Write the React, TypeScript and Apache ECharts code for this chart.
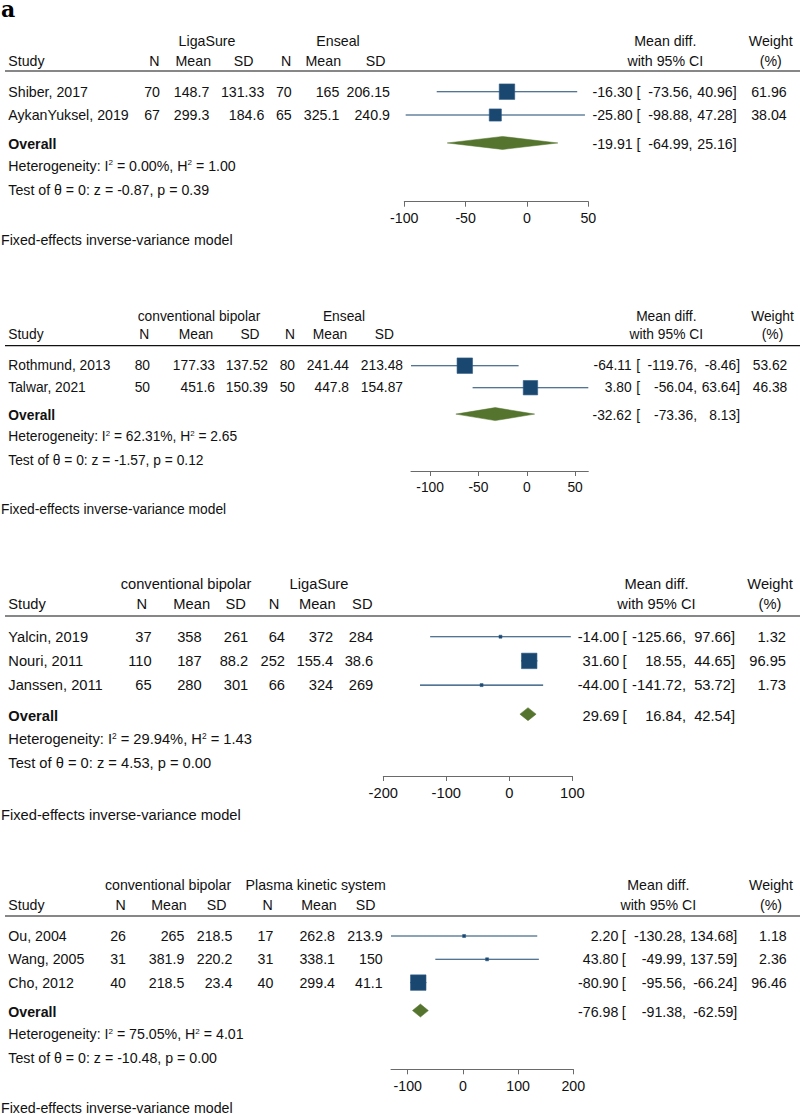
import React, { useEffect, useRef } from "react";
import * as echarts from "echarts";

const FONT = "'Liberation Sans', Arial, Helvetica, sans-serif";
const NAVY = "#1a476f";
const GREEN = "#55752f";
const TXT = "#111111";
const AXIS = "#6a6a6a";

// ---------- Panel 1: LigaSure vs Enseal ----------
const p1Groups = ["LigaSure", "Enseal"];
const p1Studies = ["Shiber, 2017", "AykanYuksel, 2019"];
const p1N1 = [70, 67];
const p1Mean1 = [148.7, 299.3];
const p1SD1 = [131.33, 184.6];
const p1N2 = [70, 65];
const p1Mean2 = [165, 325.1];
const p1SD2 = [206.15, 240.9];
const p1Diff = [-16.3, -25.8];
const p1Lower = [-73.56, -98.88];
const p1Upper = [40.96, 47.28];
const p1Weight = [61.96, 38.04];
const p1Overall = [-19.91, -64.99, 25.16];
const p1Het = ["0.00%", "1.00"];
const p1Test = ["-0.87", "0.39"];
const p1Ticks = [-100, -50, 0, 50];

// ---------- Panel 2: conventional bipolar vs Enseal ----------
const p2Groups = ["conventional bipolar", "Enseal"];
const p2Studies = ["Rothmund, 2013", "Talwar, 2021"];
const p2N1 = [80, 50];
const p2Mean1 = [177.33, 451.6];
const p2SD1 = [137.52, 150.39];
const p2N2 = [80, 50];
const p2Mean2 = [241.44, 447.8];
const p2SD2 = [213.48, 154.87];
const p2Diff = [-64.11, 3.8];
const p2Lower = [-119.76, -56.04];
const p2Upper = [-8.46, 63.64];
const p2Weight = [53.62, 46.38];
const p2Overall = [-32.62, -73.36, 8.13];
const p2Het = ["62.31%", "2.65"];
const p2Test = ["-1.57", "0.12"];
const p2Ticks = [-100, -50, 0, 50];

// ---------- Panel 3: conventional bipolar vs LigaSure ----------
const p3Groups = ["conventional bipolar", "LigaSure"];
const p3Studies = ["Yalcin, 2019", "Nouri, 2011", "Janssen, 2011"];
const p3N1 = [37, 110, 65];
const p3Mean1 = [358, 187, 280];
const p3SD1 = [261, 88.2, 301];
const p3N2 = [64, 252, 66];
const p3Mean2 = [372, 155.4, 324];
const p3SD2 = [284, 38.6, 269];
const p3Diff = [-14.0, 31.6, -44.0];
const p3Lower = [-125.66, 18.55, -141.72];
const p3Upper = [97.66, 44.65, 53.72];
const p3Weight = [1.32, 96.95, 1.73];
const p3Overall = [29.69, 16.84, 42.54];
const p3Het = ["29.94%", "1.43"];
const p3Test = ["4.53", "0.00"];
const p3Ticks = [-200, -100, 0, 100];

// ---------- Panel 4: conventional bipolar vs Plasma kinetic system ----------
const p4Groups = ["conventional bipolar", "Plasma kinetic system"];
const p4Studies = ["Ou, 2004", "Wang, 2005", "Cho, 2012"];
const p4N1 = [26, 31, 40];
const p4Mean1 = [265, 381.9, 218.5];
const p4SD1 = [218.5, 220.2, 23.4];
const p4N2 = [17, 31, 40];
const p4Mean2 = [262.8, 338.1, 299.4];
const p4SD2 = [213.9, 150, 41.1];
const p4Diff = [2.2, 43.8, -80.9];
const p4Lower = [-130.28, -49.99, -95.56];
const p4Upper = [134.68, 137.59, -66.24];
const p4Weight = [1.18, 2.36, 96.46];
const p4Overall = [-76.98, -91.38, -62.59];
const p4Het = ["75.05%", "4.01"];
const p4Test = ["-10.48", "0.00"];
const p4Ticks = [-100, 0, 100, 200];

const colHeaders = ["N", "Mean", "SD", "N", "Mean", "SD"];

// ---------- layout (pixels) ----------
const layouts = [
  {
    fs: 14.2, groupY: 40.7, headY: 60.7, lineY: 71, row0: 91.7, step: 23.3, hetY: 165.7, testY: 190, axisY: 201.7, fixedY: 240,
    groupX: [207, 338], colHeadX: [154.3, 193.3, 243.7, 286, 323.3, 375.7], colValR: [160, 209.3, 264.3, 291.7, 339.3, 390],
    axisPx: [404.3, 588.3], estR: 632.7, brL: 636.5, loR: 692.5, hiR: 736.7, wR: 786.7, mdX: 665.3, wX: 770.7,
  },
  {
    fs: 13.8, groupY: 316, headY: 334.3, lineY: 345.7, row0: 365.7, step: 22, hetY: 436.7, testY: 460, axisY: 471, fixedY: 509,
    groupX: [199, 344], colHeadX: [144.3, 196, 250, 290, 330, 384.3], colValR: [150, 215, 268, 295, 349, 403],
    axisPx: [411, 588.3], estR: 631.7, brL: 636.3, loR: 697, hiR: 740, wR: 787.3, mdX: 666.3, wX: 772.5,
  },
  {
    fs: 14.7, groupY: 584.3, headY: 604, lineY: 616, row0: 636.7, step: 24.2, hetY: 739.3, testY: 763.3, axisY: 776, fixedY: 815,
    groupX: [186, 319], colHeadX: [141.7, 191.7, 235.7, 274, 317.3, 362.3], colValR: [151.7, 201.7, 248.3, 285, 333.3, 373.3],
    axisPx: [383.3, 572.3], estR: 619.3, brL: 622.5, loR: 686, hiR: 735, wR: 786, mdX: 656.5, wX: 770,
  },
  {
    fs: 14.2, groupY: 885, headY: 905, lineY: 916, row0: 936, step: 23.3, hetY: 1034, testY: 1057.7, axisY: 1069.3, fixedY: 1108.3,
    groupX: [168, 315.7], colHeadX: [120.7, 169, 216.7, 267.7, 319, 365.7], colValR: [126, 184.3, 232.3, 273.3, 335, 382.7],
    axisPx: [391, 573.3], estR: 618.3, brL: 621.7, loR: 686, hiR: 737.3, wR: 786.7, mdX: 658.3, wX: 771,
  },
];

const panels = [
  { groups: p1Groups, studies: p1Studies, cols: [p1N1, p1Mean1, p1SD1, p1N2, p1Mean2, p1SD2], diff: p1Diff, lo: p1Lower, hi: p1Upper, w: p1Weight, overall: p1Overall, het: p1Het, test: p1Test, ticks: p1Ticks },
  { groups: p2Groups, studies: p2Studies, cols: [p2N1, p2Mean1, p2SD1, p2N2, p2Mean2, p2SD2], diff: p2Diff, lo: p2Lower, hi: p2Upper, w: p2Weight, overall: p2Overall, het: p2Het, test: p2Test, ticks: p2Ticks },
  { groups: p3Groups, studies: p3Studies, cols: [p3N1, p3Mean1, p3SD1, p3N2, p3Mean2, p3SD2], diff: p3Diff, lo: p3Lower, hi: p3Upper, w: p3Weight, overall: p3Overall, het: p3Het, test: p3Test, ticks: p3Ticks },
  { groups: p4Groups, studies: p4Studies, cols: [p4N1, p4Mean1, p4SD1, p4N2, p4Mean2, p4SD2], diff: p4Diff, lo: p4Lower, hi: p4Upper, w: p4Weight, overall: p4Overall, het: p4Het, test: p4Test, ticks: p4Ticks },
];

const OVERALL_GAP = 0.2;
const MAX_SQUARE = 15.5;
const DIAMOND_H = 13;

function txt(text: string, x: number, y: number, align: string, fs: number, extra: any = {}) {
  return {
    type: "text",
    x,
    y,
    silent: true,
    style: {
      text,
      fill: TXT,
      fontSize: fs,
      fontFamily: FONT,
      align,
      textAlign: align,
      verticalAlign: "middle",
      textVerticalAlign: "middle",
      ...extra,
    },
  };
}

function buildOption() {
  const grids: any[] = [];
  const xAxes: any[] = [];
  const yAxes: any[] = [];
  const series: any[] = [];
  const elements: any[] = [];

  elements.push({
    type: "text",
    x: 1,
    y: 9,
    style: { text: "a", fill: "#000", fontSize: 22, fontWeight: "bold", fontFamily: "'DejaVu Serif', serif", align: "left", textAlign: "left", verticalAlign: "middle", textVerticalAlign: "middle" },
  });

  panels.forEach((p, k) => {
    const L = layouts[k];
    const fs = L.fs;
    const n = p.studies.length;
    const xMin = Math.min(...p.lo, p.overall[1], ...p.ticks);
    const xMax = Math.max(...p.hi, p.overall[2], ...p.ticks);
    const maxW = Math.max(...p.w);

    grids.push({
      left: L.axisPx[0],
      width: L.axisPx[1] - L.axisPx[0],
      top: L.row0,
      height: L.axisY - L.row0,
      containLabel: false,
    });
    xAxes.push({
      type: "value",
      gridIndex: k,
      min: xMin,
      max: xMax,
      position: "bottom",
      axisLine: { show: true, onZero: false, lineStyle: { color: AXIS, width: 1 } },
      axisTick: { show: true, length: 5, customValues: p.ticks, lineStyle: { color: AXIS, width: 1 } },
      axisLabel: { show: true, customValues: p.ticks, margin: 9.5, fontSize: fs, fontFamily: FONT, color: TXT },
      splitLine: { show: false },
    });
    yAxes.push({
      type: "value",
      gridIndex: k,
      min: 0,
      max: (L.axisY - L.row0) / L.step,
      inverse: true,
      show: false,
    });

    const data: any[] = p.studies.map((_, i) => [p.diff[i], p.lo[i], p.hi[i], p.w[i], i, 0]);
    data.push([p.overall[0], p.overall[1], p.overall[2], 0, n + OVERALL_GAP, 1]);

    series.push({
      type: "custom",
      xAxisIndex: k,
      yAxisIndex: k,
      data,
      clip: false,
      renderItem: (params: any, api: any) => {
        const est = api.value(0);
        const lo = api.value(1);
        const hi = api.value(2);
        const w = api.value(3);
        const row = api.value(4);
        const kind = api.value(5);
        const pl = api.coord([lo, row]);
        const ph = api.coord([hi, row]);
        const pe = api.coord([est, row]);
        const y = pe[1];
        if (kind === 1) {
          return {
            type: "polygon",
            shape: { points: [[pl[0], y], [pe[0], y - DIAMOND_H / 2], [ph[0], y], [pe[0], y + DIAMOND_H / 2]] },
            style: { fill: GREEN, stroke: GREEN, lineWidth: 0.5 },
          };
        }
        const s = Math.max(3, MAX_SQUARE * Math.sqrt(w / maxW));
        return {
          type: "group",
          children: [
            { type: "line", shape: { x1: pl[0], y1: y, x2: ph[0], y2: y }, style: { stroke: NAVY, lineWidth: 1.1 } },
            { type: "rect", shape: { x: pe[0] - s / 2, y: y - s / 2, width: s, height: s }, style: { fill: NAVY, stroke: "#2f5c85", lineWidth: 0.6 } },
          ],
        };
      },
    });

    // headers
    elements.push(txt(p.groups[0], L.groupX[0], L.groupY, "center", fs));
    elements.push(txt(p.groups[1], L.groupX[1], L.groupY, "center", fs));
    elements.push(txt("Study", 8.3, L.headY, "left", fs));
    colHeaders.forEach((h, j) => elements.push(txt(h, L.colHeadX[j], L.headY, "center", fs)));
    elements.push(txt("Mean diff.", L.mdX, L.groupY, "center", fs));
    elements.push(txt("with 95% CI", L.mdX, L.headY, "center", fs));
    elements.push(txt("Weight", L.wX, L.groupY, "center", fs));
    elements.push(txt("(%)", L.wX, L.headY, "center", fs));
    elements.push({
      type: "line",
      silent: true,
      shape: { x1: 5, y1: L.lineY, x2: 800, y2: L.lineY },
      style: { stroke: "#111", lineWidth: 1.2 },
    });

    const effect = (vals: number[], y: number) => {
      elements.push(txt(vals[0].toFixed(2), L.estR, y, "right", fs));
      elements.push(txt("[", L.brL, y, "left", fs));
      elements.push(txt(vals[1].toFixed(2) + ",", L.loR, y, "right", fs));
      elements.push(txt(vals[2].toFixed(2) + "]", L.hiR, y, "right", fs));
    };

    p.studies.forEach((name, i) => {
      const y = L.row0 + i * L.step;
      elements.push(txt(name, 8.3, y, "left", fs));
      p.cols.forEach((col, j) => elements.push(txt(String(col[i]), L.colValR[j], y, "right", fs)));
      effect([p.diff[i], p.lo[i], p.hi[i]], y);
      elements.push(txt(p.w[i].toFixed(2), L.wR, y, "right", fs));
    });

    const oy = L.row0 + (n + OVERALL_GAP) * L.step + 1.5;
    elements.push(txt("Overall", 8.3, oy, "left", fs, { fontWeight: "bold" }));
    effect(p.overall, oy);

    elements.push(
      txt(`Heterogeneity: I{sup|2} = ${p.het[0]}, H{sup|2} = ${p.het[1]}`, 8.3, L.hetY, "left", fs, {
        rich: { sup: { fontSize: fs * 0.57, fontFamily: FONT, fill: TXT, verticalAlign: "top" } },
      })
    );
    elements.push(txt(`Test of \u03b8 = 0: z = ${p.test[0]}, p = ${p.test[1]}`, 8.3, L.testY, "left", fs));
    elements.push(txt("Fixed-effects inverse-variance model", 1, L.fixedY, "left", fs));
  });

  return {
    animation: false,
    backgroundColor: "#ffffff",
    grid: grids,
    xAxis: xAxes,
    yAxis: yAxes,
    series,
    graphic: { elements },
  };
}

export default function App() {
  const ref = useRef<HTMLDivElement>(null);
  useEffect(() => {
    document.body.style.margin = "0";
    if (!ref.current) return;
    const chart = echarts.init(ref.current, undefined, { renderer: "svg" });
    chart.setOption(buildOption() as any);
    return () => chart.dispose();
  }, []);
  return <div ref={ref} style={{ width: 800, height: 1114 }} />;
}
